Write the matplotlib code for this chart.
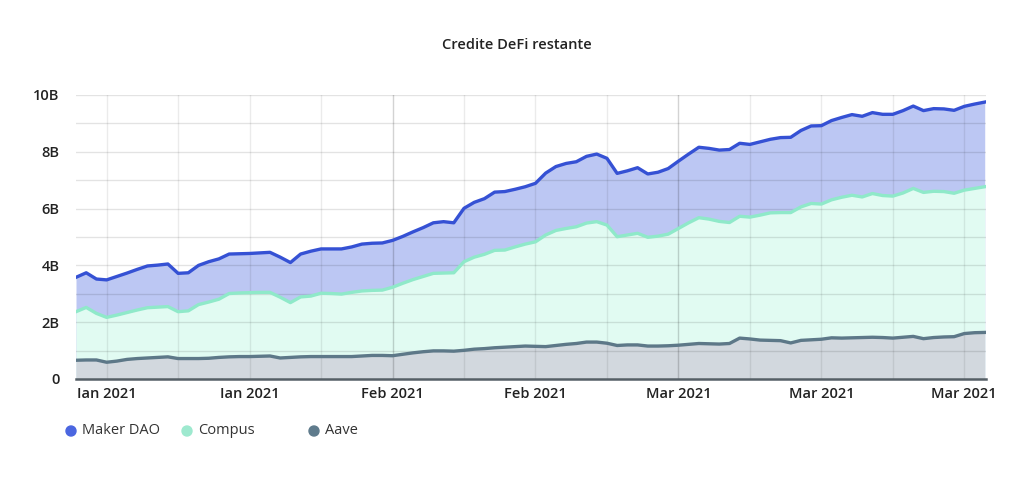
import numpy as np
import pandas as pd
import matplotlib
matplotlib.use('Agg')
import matplotlib.pyplot as plt
from matplotlib.ticker import MultipleLocator, FuncFormatter

# daily values, billions USD, 1 Jan - 31 Mar 2021
dates = pd.date_range('2021-01-01', '2021-03-31', freq='D')

maker = [3.58, 3.74, 3.52, 3.49, 3.61, 3.73, 3.86, 3.98, 4.01, 4.05,
         3.72, 3.74, 4.00, 4.13, 4.23, 4.40, 4.41, 4.42, 4.44, 4.46,
         4.29, 4.10, 4.40, 4.50, 4.58, 4.58, 4.58, 4.65, 4.75, 4.78,
         4.79, 4.88, 5.02, 5.18, 5.33, 5.50, 5.54, 5.50, 6.01, 6.22,
         6.35, 6.58, 6.60, 6.68, 6.77, 6.89, 7.25, 7.48, 7.59, 7.65,
         7.84, 7.92, 7.77, 7.24, 7.33, 7.44, 7.22, 7.28, 7.41, 7.67,
         7.92, 8.16, 8.12, 8.06, 8.08, 8.30, 8.26, 8.35, 8.44, 8.50,
         8.51, 8.75, 8.91, 8.92, 9.10, 9.21, 9.31, 9.25, 9.38, 9.32,
         9.32, 9.45, 9.61, 9.45, 9.52, 9.51, 9.46, 9.60, 9.68, 9.75]

compus = [2.37, 2.52, 2.31, 2.17, 2.25, 2.34, 2.43, 2.51, 2.53, 2.55,
          2.37, 2.40, 2.62, 2.71, 2.81, 3.01, 3.03, 3.04, 3.05, 3.05,
          2.88, 2.69, 2.89, 2.92, 3.02, 3.01, 2.99, 3.05, 3.10, 3.12,
          3.13, 3.23, 3.37, 3.50, 3.61, 3.72, 3.73, 3.74, 4.13, 4.29,
          4.39, 4.53, 4.54, 4.65, 4.75, 4.83, 5.07, 5.23, 5.30, 5.36,
          5.49, 5.54, 5.42, 5.01, 5.07, 5.13, 4.99, 5.03, 5.10, 5.30,
          5.50, 5.68, 5.63, 5.55, 5.51, 5.73, 5.70, 5.77, 5.85, 5.86,
          5.86, 6.06, 6.18, 6.16, 6.31, 6.40, 6.47, 6.41, 6.53, 6.46,
          6.44, 6.55, 6.71, 6.57, 6.61, 6.60, 6.54, 6.65, 6.71, 6.77]

aave = [0.66, 0.67, 0.67, 0.59, 0.63, 0.69, 0.72, 0.74, 0.76, 0.78,
        0.72, 0.72, 0.72, 0.73, 0.76, 0.78, 0.79, 0.79, 0.80, 0.81,
        0.74, 0.76, 0.78, 0.79, 0.79, 0.79, 0.79, 0.79, 0.81, 0.83,
        0.83, 0.82, 0.87, 0.92, 0.96, 0.99, 0.99, 0.98, 1.01, 1.05,
        1.07, 1.10, 1.12, 1.14, 1.16, 1.15, 1.14, 1.18, 1.22, 1.25,
        1.30, 1.30, 1.26, 1.18, 1.20, 1.20, 1.16, 1.16, 1.17, 1.19,
        1.22, 1.25, 1.24, 1.23, 1.25, 1.44, 1.41, 1.37, 1.36, 1.35,
        1.27, 1.36, 1.38, 1.40, 1.45, 1.44, 1.45, 1.46, 1.47, 1.46,
        1.44, 1.47, 1.50, 1.42, 1.46, 1.48, 1.49, 1.60, 1.63, 1.64]

names = ['Maker DAO', 'Compus', 'Aave']
line_cols = ['#3551d4', '#8fe9c9', '#5d7888']
fill_cols = ['#bcc7f3', '#e1fbf2', '#d2d8de']
dot_cols = ['#4b66e0', '#9ee9cf', '#5f7b8c']

tick_dates = pd.to_datetime(['2021-01-04', '2021-01-18', '2021-02-01', '2021-02-15',
                             '2021-03-01', '2021-03-15', '2021-03-29'])
tick_labels = ['Ian 2021', 'Ian 2021', 'Feb 2021', 'Feb 2021', 'Mar 2021', 'Mar 2021', 'Mar 2021']

plt.rcParams['font.family'] = ['Open Sans', 'DejaVu Sans']

fig = plt.figure(figsize=(10.24, 4.79), dpi=100)
ax = fig.add_axes([76/1024, 100/479, 910/1024, 284/479])

# grid, drawn over the fills but under the lines
for v in np.arange(1, 11):
    ax.axhline(v, color='black', alpha=0.11, lw=1, zorder=4)
weeks = pd.date_range('2021-01-04', '2021-03-31', freq='7D')
for d in weeks:
    ax.axvline(d, color='black', alpha=0.08, lw=1, zorder=4)
for d in pd.to_datetime(['2021-02-01', '2021-03-01']):
    ax.axvline(d, color='black', alpha=0.10, lw=1, zorder=4)

x = dates
for vals, lc, fc, z in zip([maker, compus, aave], line_cols, fill_cols, [1, 2, 3]):
    ax.fill_between(x, 0, vals, color=fc, lw=0, zorder=z)
for vals, lc, z in zip([maker, compus, aave], line_cols, [5, 6, 7]):
    ax.plot(x, vals, color=lc, lw=2.4, zorder=z, solid_joinstyle='round')

ax.set_xlim(dates[0], dates[-1] + pd.Timedelta(hours=3))
ax.set_ylim(0, 10)
ax.yaxis.set_major_locator(MultipleLocator(2))
ax.yaxis.set_major_formatter(FuncFormatter(lambda v, p: '0' if v == 0 else '%dB' % v))
ax.set_xticks(tick_dates)
ax.set_xticklabels(tick_labels)

for s in ['top', 'right', 'left']:
    ax.spines[s].set_visible(False)
ax.spines['bottom'].set_color('#555f66')
ax.spines['bottom'].set_linewidth(1.8)
ax.spines['bottom'].set_zorder(8)
ax.tick_params(axis='both', length=0, labelsize=10.5, labelcolor='#222222')
ax.tick_params(axis='y', pad=12)
ax.tick_params(axis='x', pad=6)
for t in ax.get_xticklabels() + ax.get_yticklabels():
    t.set_fontweight('semibold')

fig.text(517/1024, 1 - 45/479, 'Credite DeFi restante', ha='center', va='center',
         fontsize=10.5, fontweight='semibold', color='#222222')

# legend
leg_x = [71, 187, 314]
for lx, name, c in zip(leg_x, names, dot_cols):
    fig.patches.append(matplotlib.patches.Ellipse((lx/1024, 1 - 431/479), 10/1024, 10/479,
                                                  transform=fig.transFigure, color=c))
    fig.text((lx + 11)/1024, 1 - 431/479, name, ha='left', va='center',
             fontsize=10.5, color='#333333')

fig.savefig('out.png', dpi=100)
